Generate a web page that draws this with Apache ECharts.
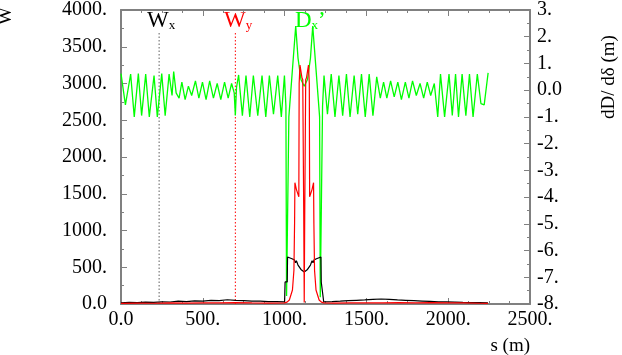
<!DOCTYPE html>
<html lang="en">
<head>
<meta charset="UTF-8" />
<title>chromatic functions</title>
<script src="https://cdn.jsdelivr.net/npm/echarts@6/dist/echarts.min.js"></script>
<style>
  html, body { margin: 0; padding: 0; background: #fff; }
  #chart { width: 622px; height: 355px; }
</style>
</head>
<body>
<div id="chart"></div>
<script>
  // [s (m), W]  horizontal chromatic function Wx
  const wxData = [
    [0, 15], [50, 22], [100, 18], [150, 25], [200, 22], [250, 30], [300, 27], [350, 38],
    [400, 33], [450, 42], [500, 38], [550, 48], [600, 45], [650, 58], [700, 50], [750, 45],
    [800, 40], [850, 38], [900, 33], [950, 32], [1000, 30],
    [1003, 300], [1016, 300], [1018, 640], [1045, 615], [1060, 600], [1066, 560], [1072, 590],
    [1082, 530], [1100, 470], [1120, 435], [1140, 470], [1158, 530], [1168, 590], [1174, 560],
    [1180, 600], [1195, 615], [1222, 640], [1224, 300], [1236, 300], [1239, 30],
    [1290, 33], [1340, 38], [1390, 45], [1440, 50], [1490, 55], [1540, 62], [1590, 68],
    [1640, 62], [1690, 55], [1740, 50], [1790, 45], [1840, 40], [1890, 35], [1940, 30],
    [1990, 28], [2040, 25], [2090, 22], [2140, 20], [2190, 18], [2243, 15]
  ]

  // [s (m), W]  vertical chromatic function Wy
  const wyData = [
    [0, 8], [100, 12], [200, 10], [300, 14], [400, 12], [500, 16], [600, 14], [700, 18],
    [800, 14], [900, 12], [1000, 15], [1015, 25], [1029, 55], [1048, 190], [1057, 460],
    [1061, 1100], [1063, 1650], [1072, 1560], [1087, 1460], [1089, 3000], [1094, 3250],
    [1106, 3080], [1111, 3050], [1117, 1200], [1120, 20], [1123, 1200], [1129, 3050],
    [1134, 3080], [1146, 3250], [1151, 3000], [1153, 1460], [1168, 1560], [1177, 1650],
    [1179, 1100], [1183, 460], [1192, 190], [1211, 55], [1225, 25], [1240, 15],
    [1300, 12], [1400, 14], [1500, 16], [1600, 14], [1700, 18], [1800, 15], [1900, 20],
    [2000, 16], [2100, 14], [2200, 10], [2243, 8]
  ]

  // [s (m), dD/dδ (m)]  Dx'
  const dxData = [
    [0, 0.62], [27, -0.55], [59, 0.6], [81, -1.0], [106, 0.62], [126, -0.95], [151, 0.6],
    [173, -1.0], [202, 0.55], [222, -1.0], [249, 0.62], [270, -0.95], [294, 0.6], [312, -0.2],
    [322, 0.7], [337, -0.1],
    [355, -0.3], [372, 0.3], [392, -0.35], [412, 0.15], [432, -0.2], [455, 0.35], [476, -0.3],
    [498, 0.3], [520, -0.35], [542, 0.35], [565, -0.3], [588, 0.25], [610, -0.35], [633, 0.3],
    [655, -0.3], [676, 0.25], [692, -0.1], [699, -0.95], [706, 0.1],
    [719, 0.57], [742, -0.95], [764, 0.55], [787, -1.0], [809, 0.55], [836, -0.95], [862, 0.55],
    [885, -1.0], [907, 0.55], [932, -0.9], [958, 0.55], [980, -1.0], [999, 0.55],
    [1008, -0.6], [1012, -7.7], [1022, -7.75], [1026, -1.0], [1068, 2.4], [1082, 1.2],
    [1100, 0.4], [1120, 0.15], [1140, 0.4], [1158, 1.2], [1172, 2.4], [1214, -1.0],
    [1218, -7.75], [1228, -7.7], [1232, -0.6],
    [1241, 0.55], [1262, -0.9], [1285, 0.6], [1308, -1.0], [1332, 0.55], [1355, -0.95],
    [1378, 0.6], [1400, -1.0], [1425, 0.55], [1447, -0.9], [1470, 0.6], [1493, -1.0],
    [1517, 0.6], [1540, -0.95], [1563, 0.5],
    [1585, -0.3], [1605, 0.3], [1625, -0.3], [1648, 0.35], [1670, -0.25], [1692, 0.3],
    [1714, -0.35], [1738, 0.3], [1760, -0.3], [1782, 0.35], [1805, -0.2], [1828, 0.25],
    [1850, -0.3], [1872, 0.3], [1893, -0.2], [1915, 0.25],
    [1936, -1.0], [1953, 0.6], [1978, -1.0], [2005, 0.6], [2025, -0.95], [2045, 0.6],
    [2063, -1.0], [2085, 0.6], [2108, -0.95], [2130, 0.6], [2152, -1.0], [2178, 0.6],
    [2200, -0.5], [2220, -0.55], [2244, 0.65]
  ]

  // marker positions (s) of the dotted lines, and how high they reach (W)
  const wxMark = 233
  const wyMark = 699
  const markTop = 3700

  const serif = 'Liberation Serif'
  const gray = '#808080'
  const fmt = v => (v === 0 ? '0.0' : v + '.')

  const axisCommon = {
    axisLine: { onZero: false, lineStyle: { color: gray, width: 2 } },
    axisTick: { inside: true, length: 6, lineStyle: { color: gray } },
    minorTick: { show: true, length: 3, lineStyle: { color: gray } },
    splitLine: { show: false }
  }
  const labelStyle = { color: '#000', fontFamily: serif, fontSize: 20, formatter: fmt }

  // dotted marker drawn as its own small line series
  const marker = (s, color) => ({
    type: 'line', yAxisIndex: 0, symbol: 'none', silent: true, color: color,
    data: [[s, 0], [s, markTop]],
    lineStyle: { color: color, width: 1, type: [1.5, 2] },
    z: 1
  })

  const chart = echarts.init(document.getElementById('chart'))
  chart.setOption({
    animation: false,
    grid: { left: 121, right: 92, top: 10, bottom: 51, outerBoundsMode: 'none' },
    xAxis: [
      {
        type: 'value', min: 0, max: 2500, interval: 500, position: 'bottom',
        ...axisCommon,
        minorTick: { ...axisCommon.minorTick, splitNumber: 4 },
        axisLabel: { ...labelStyle, margin: 6 }
      },
      {
        type: 'value', min: 0, max: 2500, interval: 500, position: 'top',
        ...axisCommon,
        minorTick: { ...axisCommon.minorTick, splitNumber: 4 },
        axisLabel: { show: false }
      }
    ],
    yAxis: [
      {
        type: 'value', min: 0, max: 4000, interval: 500, position: 'left',
        ...axisCommon,
        minorTick: { ...axisCommon.minorTick, splitNumber: 2 },
        axisLabel: { ...labelStyle, margin: 14 }
      },
      {
        type: 'value', min: -8, max: 3, interval: 1, position: 'right',
        ...axisCommon,
        minorTick: { ...axisCommon.minorTick, splitNumber: 2 },
        axisLabel: { ...labelStyle, margin: 7 }
      }
    ],
    series: [
      marker(wxMark, '#606060'),
      marker(wyMark, '#ff0000'),
      {
        name: "Dx'", type: 'line', yAxisIndex: 1, data: dxData, symbol: 'none',
        color: '#00ff00', lineStyle: { color: '#00ff00', width: 1.3 }
      },
      {
        name: 'Wx', type: 'line', yAxisIndex: 0, data: wxData, symbol: 'none',
        color: '#000000', lineStyle: { color: '#000000', width: 1.2 }
      },
      {
        name: 'Wy', type: 'line', yAxisIndex: 0, data: wyData, symbol: 'none',
        color: '#ff0000', lineStyle: { color: '#ff0000', width: 1.2 }
      }
    ],
    graphic: [
      {
        type: 'text', x: 6, y: 16, rotation: Math.PI / 2,
        style: { text: 'W', fontSize: 19, fontFamily: serif, fill: '#000', align: 'center', verticalAlign: 'middle' }
      },
      {
        type: 'text', x: 609, y: 77, rotation: Math.PI / 2,
        style: { text: 'dD/ dδ (m)', fontSize: 19, fontFamily: serif, fill: '#000', align: 'center', verticalAlign: 'middle' }
      },
      {
        type: 'text', x: 530, y: 346,
        style: { text: 's (m)', fontSize: 19, fontFamily: serif, fill: '#000', align: 'right', verticalAlign: 'middle' }
      },
      {
        type: 'text', x: 147, y: 9,
        style: {
          text: '{a|W}{b|x}',
          rich: {
            a: { fontSize: 23, fontFamily: serif, fill: '#000' },
            b: { fontSize: 13, fontFamily: serif, fill: '#000', verticalAlign: 'bottom' }
          }
        }
      },
      {
        type: 'text', x: 224, y: 9,
        style: {
          text: '{a|W}{b|y}',
          rich: {
            a: { fontSize: 23, fontFamily: serif, fill: '#ff0000' },
            b: { fontSize: 13, fontFamily: serif, fill: '#ff0000', verticalAlign: 'bottom' }
          }
        }
      },
      {
        type: 'text', x: 295, y: 9,
        style: {
          text: '{a|D}{b|x}{a|’}',
          rich: {
            a: { fontSize: 23, fontFamily: serif, fill: '#00ff00' },
            b: { fontSize: 13, fontFamily: serif, fill: '#00ff00', verticalAlign: 'bottom' }
          }
        }
      }
    ]
  })
</script>
</body>
</html>
